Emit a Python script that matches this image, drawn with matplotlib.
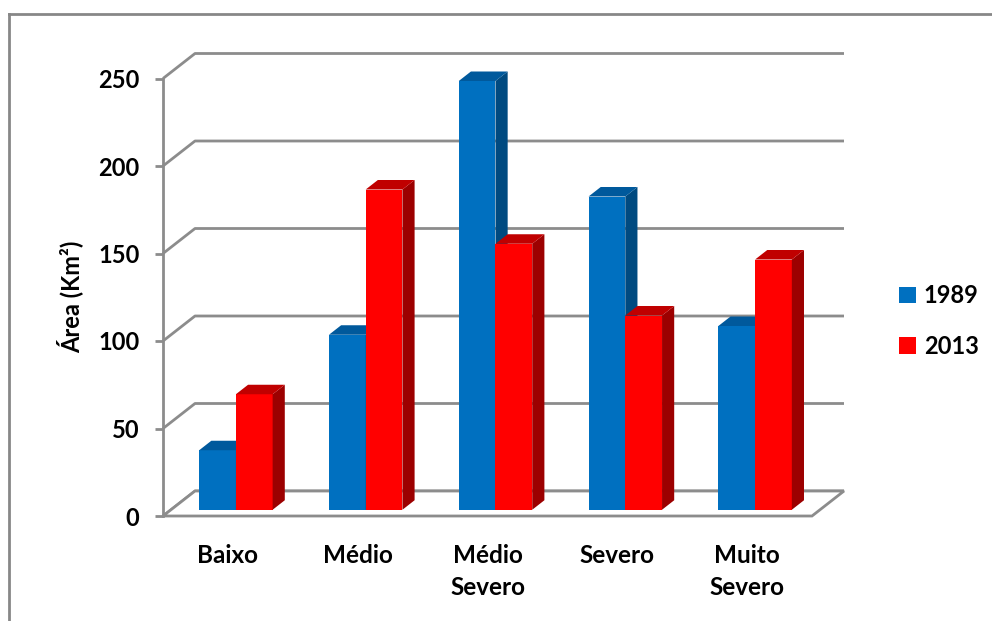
import matplotlib
matplotlib.use("Agg")
import matplotlib.pyplot as plt
from matplotlib.patches import Polygon, Patch
from matplotlib.lines import Line2D

plt.rcParams['font.family'] = ['Lato', 'DejaVu Sans']
plt.rcParams['font.weight'] = 'bold'

# Data
categories = ["Baixo", "Médio", "Médio\nSevero", "Severo", "Muito\nSevero"]
series_names = ["1989", "2013"]
values_1989 = [34, 100, 245, 179, 105]
values_2013 = [66, 183, 152, 111, 143]
y_ticks = [0, 50, 100, 150, 200, 250]

# Face colours: front, top, side
palette = {
    "1989": ("#0070C0", "#00599C", "#004A80"),
    "2013": ("#FF0000", "#C00000", "#9C0000"),
}
grid_color = "#8C8C8C"

W_PX, H_PX, DPI = 992, 621, 100
fig = plt.figure(figsize=(W_PX / DPI, H_PX / DPI), dpi=DPI)
fig.patch.set_facecolor("white")

# Outer chart frame (left and top edges visible)
fig.add_artist(Line2D([9 / W_PX, 9 / W_PX], [0, 1 - 14 / H_PX],
                      transform=fig.transFigure, color="#878787", lw=2))
fig.add_artist(Line2D([9 / W_PX, 1], [1 - 14 / H_PX, 1 - 14 / H_PX],
                      transform=fig.transFigure, color="#878787", lw=2))

# Plot axes: x in category units, y in value units
ax_left, ax_right, ax_top, ax_bottom = 100, 870, 30, 540
ax = fig.add_axes([ax_left / W_PX, 1 - ax_bottom / H_PX,
                   (ax_right - ax_left) / W_PX, (ax_bottom - ax_top) / H_PX])
px_per_cat = 129.8
px_per_val = 1.75
x0_px, y0_px = 163, 516
ax.set_xlim((ax_left - x0_px) / px_per_cat - 0.5, (ax_right - x0_px) / px_per_cat - 0.5)
ax.set_ylim((y0_px - ax_bottom) / px_per_val, (y0_px - ax_top) / px_per_val)
ax.patch.set_alpha(0)

# Oblique depth vector (full depth of the floor) in data units
DX = 32 / px_per_cat
DY = 25 / px_per_val
n = len(categories)
x_start, x_end = -0.5, n - 0.5

# Left wall diagonals + back wall gridlines
for v in y_ticks:
    ax.plot([x_start, x_start + DX, x_end + DX], [v, v + DY, v + DY],
            color=grid_color, lw=2, zorder=1, solid_capstyle="butt")

# Floor
floor = Polygon([(x_start, 0), (x_end, 0), (x_end + DX, DY), (x_start + DX, DY)],
                closed=True, facecolor="white", edgecolor=grid_color, lw=2, zorder=1)
ax.add_patch(floor)

# Front value axis via the library's spine and ticks
for s in ["top", "right", "bottom"]:
    ax.spines[s].set_visible(False)
ax.spines["left"].set_position(("data", x_start))
ax.spines["left"].set_bounds(0, 250)
ax.spines["left"].set_color(grid_color)
ax.spines["left"].set_linewidth(2)
ax.set_yticks(y_ticks)
ax.set_yticklabels([str(t) for t in y_ticks])
ax.tick_params(axis="y", direction="out", length=6, width=2, color=grid_color,
               labelsize=17, labelcolor="black", pad=11)
for lab in ax.get_yticklabels():
    lab.set_fontweight("bold")
ax.set_xticks([])

# 3D-style columns
bar_w = 0.283
d0, dd = 0.25, 0.38  # depth position and thickness (fraction of floor depth)


def draw_column(xl, v, colors, z):
    front, top, side = colors
    xr = xl + bar_w
    by = d0 * DY
    bx = d0 * DX
    ox, oy = dd * DX, dd * DY
    ax.add_patch(Polygon([(xl + bx, by), (xr + bx, by), (xr + bx, v + by), (xl + bx, v + by)],
                         closed=True, facecolor=front, edgecolor="none", zorder=z))
    ax.add_patch(Polygon([(xr + bx, by), (xr + bx + ox, by + oy), (xr + bx + ox, v + by + oy),
                          (xr + bx, v + by)],
                         closed=True, facecolor=side, edgecolor="none", zorder=z))
    ax.add_patch(Polygon([(xl + bx, v + by), (xr + bx, v + by), (xr + bx + ox, v + by + oy),
                          (xl + bx + ox, v + by + oy)],
                         closed=True, facecolor=top, edgecolor="none", zorder=z))


z = 3
for i in range(n):
    for s, (name, vals) in enumerate(zip(series_names, [values_1989, values_2013])):
        xl = i - bar_w + s * bar_w
        draw_column(xl, vals[i], palette[name], z)
        z += 1

# Category labels
for i, cat in enumerate(categories):
    ax.annotate(cat, xy=(i, 0), xycoords="data", xytext=(0, -20), textcoords="offset points",
                ha="center", va="top", fontsize=17.5, fontweight="bold", linespacing=1.5,
                annotation_clip=False)

# Axis title
fig.text(70 / W_PX, 1 - 297 / H_PX, "Área (Km²)", rotation=90, ha="center", va="center",
         fontsize=17, fontweight="bold")

# Legend
handles = [Patch(facecolor=palette[nm][0], edgecolor="none", label=nm) for nm in series_names]
fig.legend(handles=handles, loc="center left", bbox_to_anchor=(899 / W_PX, 1 - 321 / H_PX),
           frameon=False, handlelength=0.7, handleheight=0.7,
           handletextpad=0.35, labelspacing=1.15, borderpad=0, borderaxespad=0,
           prop={"weight": "bold", "size": 17})

fig.savefig("out.png", dpi=DPI)
